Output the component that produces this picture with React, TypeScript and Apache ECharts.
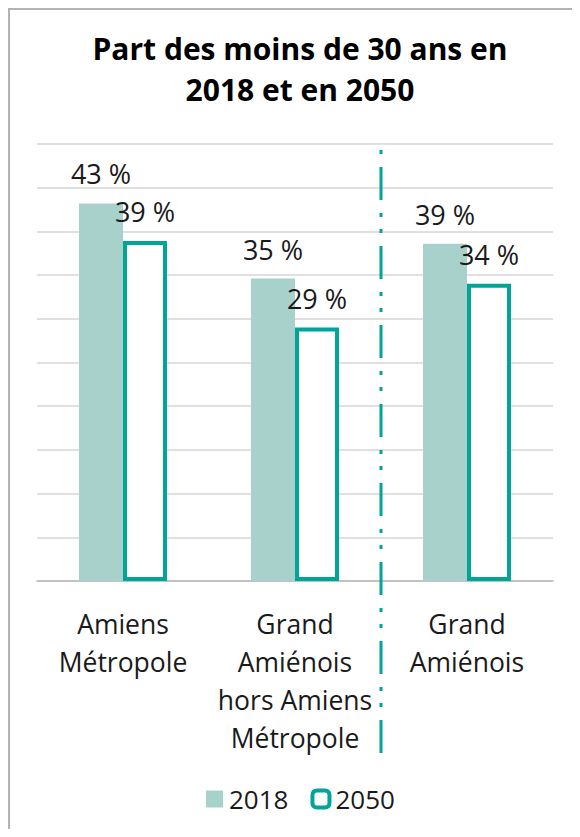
import React, { useEffect, useRef } from "react";
import * as echarts from "echarts";

const categories = ["Amiens\nMétropole", "Grand\nAmiénois\nhors Amiens\nMétropole", "Grand\nAmiénois"];
const values2018 = [43.2, 34.6, 38.6];
const values2050 = [38.9, 29.0, 34.0];
const seriesNames = ["2018", "2050"];
const yMin = 0;
const yMax = 50;
const yInterval = 5;

const FILL = "#a9d1cc";
const TEAL = "#00a499";
const FONT = "'Open Sans', 'Noto Sans', sans-serif";

export default function App() {
  const ref = useRef<HTMLDivElement>(null);
  useEffect(() => {
    if (!ref.current) return;
    const chart = echarts.init(ref.current, null, { renderer: "svg" });
    const labelCfg = {
      show: true,
      position: "top" as const,
      distance: 16,
      fontSize: 27,
      fontFamily: FONT,
      color: "#1a1a1a",
      formatter: (p: any) => `${Math.round(p.value)} %`,
    };
    chart.setOption({
      animation: false,
      backgroundColor: "#ffffff",
      textStyle: { fontFamily: FONT },
      title: {
        text: "Part des moins de 30 ans en\n2018 et en 2050",
        left: 285,
        textAlign: "center",
        top: 13,
        textStyle: {
          fontFamily: FONT,
          fontSize: 30,
          fontWeight: "bold",
          lineHeight: 41,
          color: "#000",
        },
      },
      legend: {
        left: 191,
        top: 771,
        itemWidth: 17,
        itemHeight: 17,
        itemGap: 22,
        textStyle: { fontFamily: FONT, fontSize: 26, color: "#1a1a1a", padding: [0, 0, 0, 1] },
        data: [
          { name: seriesNames[0], icon: "rect", itemStyle: { color: FILL, borderWidth: 0 } },
          { name: seriesNames[1], icon: "roundRect", itemStyle: { color: "#fff", borderColor: TEAL, borderWidth: 4 } },
        ],
      },
      grid: { left: 27, right: 19, top: 134, bottom: 248 },
      xAxis: {
        type: "category",
        data: categories,
        axisTick: { show: false },
        axisLine: { lineStyle: { color: "#b8b8b8", width: 1.5 } },
        axisLabel: {
          interval: 0,
          margin: 24,
          fontFamily: FONT,
          fontSize: 26.5,
          lineHeight: 38,
          color: "#1a1a1a",
        },
      },
      yAxis: {
        type: "value",
        min: yMin,
        max: yMax,
        interval: yInterval,
        axisLabel: { show: false },
        axisLine: { show: false },
        axisTick: { show: false },
        splitLine: { lineStyle: { color: "#d6d6d6", width: 1.5 } },
      },
      series: [
        {
          name: seriesNames[0],
          type: "bar",
          data: values2018,
          barWidth: 44,
          barGap: "0%",
          itemStyle: { color: FILL },
          label: labelCfg,
        },
        {
          name: seriesNames[1],
          type: "bar",
          data: values2050,
          barWidth: 44,
          barGap: "0%",
          itemStyle: { color: "#ffffff", borderColor: TEAL, borderWidth: 4 },
          label: labelCfg,
        },
      ],
    });
    const c2 = chart.convertToPixel({ xAxisIndex: 0 }, categories[1] as any) as number;
    const c3 = chart.convertToPixel({ xAxisIndex: 0 }, categories[2] as any) as number;
    const sepX = (c2 + c3) / 2;
    chart.setOption({
      graphic: [
        {
          type: "line",
          shape: { x1: sepX, y1: 140, x2: sepX, y2: 743 },
          style: {
            stroke: TEAL,
            lineWidth: 3,
            lineDash: [33, 13, 4, 12, 4, 13],
            lineDashOffset: 62,
          },
          z: 10,
        },
      ],
    });
    return () => chart.dispose();
  }, []);
  return (
    <div
      style={{
        width: 564,
        height: 821,
        boxSizing: "border-box",
        borderLeft: "2px solid #b3b3b3",
        borderTop: "2px solid #b3b3b3",
      }}
    >
      <div ref={ref} style={{ width: 562, height: 819 }} />
    </div>
  );
}
